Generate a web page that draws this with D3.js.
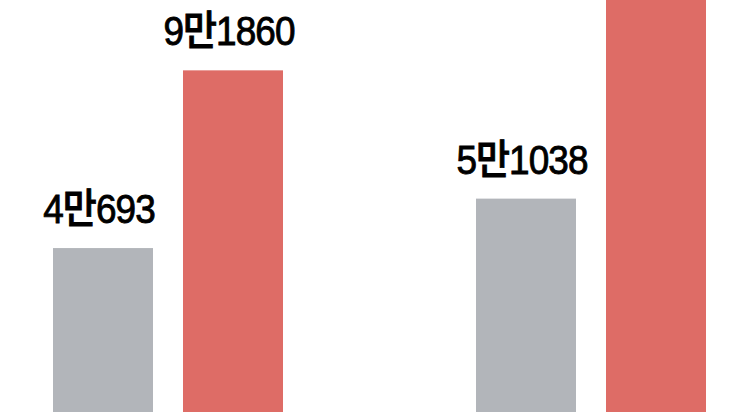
<!DOCTYPE html>
<html>
<head>
<meta charset="utf-8">
<script src="https://cdn.jsdelivr.net/npm/d3@7"></script>
<style>
  html, body { margin: 0; padding: 0; background: #ffffff; }
  svg { display: block; }
</style>
</head>
<body>
<svg id="chart" width="748" height="412"></svg>
<script>
// ---- data ----
const groups = ["A", "B"];
const series = ["gray", "red"];
const grayValues = [40693, 51038];
const redValues = [91860, 150000];   // second red bar runs off the top of the picture
const grayLabels = ["4만693", "5만1038"];
const redLabels = ["9만1860", ""];

// ---- layout ----
const W = 748, H = 412;
const svg = d3.select("#chart");
const colors = { gray: "#b2b5ba", red: "#de6c66" };

const x0 = d3.scaleBand().domain(groups).range([53, 706]).paddingInner(0.4563).paddingOuter(0);
const x1 = d3.scaleBand().domain(series).range([0, x0.bandwidth()]).paddingInner(30 / 130).paddingOuter(0);
const y = d3.scaleLog().domain([19200, 126800]).range([H, 0]);

const rows = [];
groups.forEach((g, i) => {
  rows.push({ g, s: "gray", v: grayValues[i], label: grayLabels[i] });
  rows.push({ g, s: "red", v: redValues[i], label: redLabels[i] });
});

svg.selectAll("rect.bar").data(rows).join("rect")
  .attr("class", "bar")
  .attr("x", d => x0(d.g) + x1(d.s))
  .attr("y", d => y(d.v))
  .attr("width", x1.bandwidth())
  .attr("height", d => H - y(d.v))
  .attr("fill", d => colors[d.s]);

const labels = svg.selectAll("text.lbl").data(rows.filter(d => d.label && y(d.v) > 40)).join("text")
  .attr("class", "lbl")
  .attr("x", d => x0(d.g) + x1(d.s) + x1.bandwidth() / 2 - 4)
  .attr("y", d => y(d.v) - 25)
  .attr("text-anchor", "middle")
  .attr("font-family", "'Liberation Sans', Arial, 'Noto Sans CJK KR', sans-serif")
  .attr("font-weight", 500)
  .attr("font-size", 41)
  .attr("fill", "#000000")
  .attr("stroke", "#000000")
  .attr("stroke-width", 0.9)
  .style("letter-spacing", "-1px")
  .text(d => d.label);

// condense the lettering as in the reference
labels.each(function () {
  const w = this.getComputedTextLength();
  d3.select(this).attr("textLength", w * 0.9).attr("lengthAdjust", "spacingAndGlyphs");
});
</script>
</body>
</html>
